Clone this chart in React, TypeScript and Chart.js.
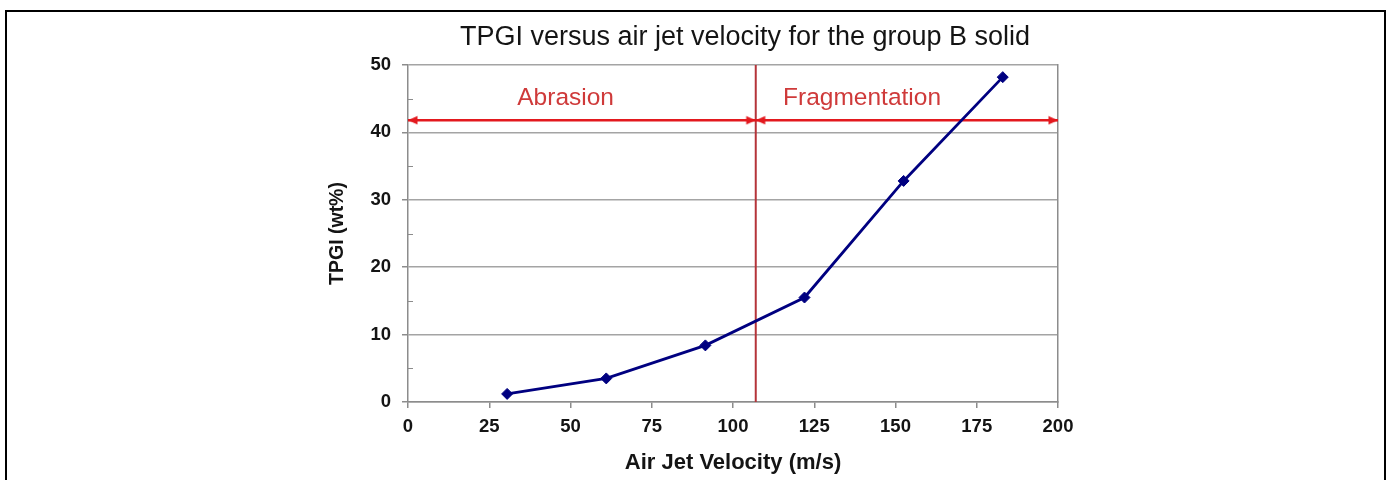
import React, { useEffect, useRef } from 'react';
import { Chart, registerables } from 'chart.js';

Chart.register(...registerables);

// ---- chart content ----
const chartTitle = 'TPGI versus air jet velocity for the group B solid';
const xAxisTitle = 'Air Jet Velocity (m/s)';
const yAxisTitle = 'TPGI (wt%)';

const velocity = [30.5, 61, 91.5, 122, 152.5, 183];
const tpgi = [1.2, 3.5, 8.4, 15.5, 32.8, 48.2];

const xMin = 0;
const xMax = 200;
const xStep = 25;
const yMin = 0;
const yMax = 50;
const yStep = 10;
const yMinorStep = 5;

const boundaryVelocity = 107;
const arrowLevel = 41.8;
const regionNames = ['Abrasion', 'Fragmentation'];
const regionLabelVelocity = [48.5, 139.7];
const regionLabelLevel = 44.1;

// ---- styles ----
const FONT = "'Liberation Sans', Arial, sans-serif";
const textColor = '#141414';
const gridColor = '#a4a4a4';
const axisColor = '#8c8c8c';
const seriesColor = '#000080';
const boundaryColor = '#b5343a';
const arrowColor = '#e3191e';
const regionTextColor = '#cf3a3a';

function makeArrowHead(): HTMLCanvasElement {
  const c = document.createElement('canvas');
  c.width = 22;
  c.height = 10;
  const g = c.getContext('2d')!;
  g.fillStyle = arrowColor;
  g.beginPath();
  g.moveTo(11, 5);
  g.lineTo(1.5, 0.8);
  g.lineTo(1.5, 9.2);
  g.closePath();
  g.fill();
  return c;
}

const decorPlugin = {
  id: 'decor',
  afterDraw(chart: any) {
    const { ctx, chartArea, scales } = chart;
    const ys = scales.y;
    const xs = scales.x;
    ctx.save();
    // minor ticks on the value axis (inside)
    ctx.strokeStyle = axisColor;
    ctx.lineWidth = 1;
    for (let v = yMin + yMinorStep; v < yMax; v += yStep) {
      const py = Math.round(ys.getPixelForValue(v)) + 0.5;
      ctx.beginPath();
      ctx.moveTo(chartArea.left, py);
      ctx.lineTo(chartArea.left + 5, py);
      ctx.stroke();
    }
    // region labels
    ctx.fillStyle = regionTextColor;
    ctx.font = `24.5px ${FONT}`;
    ctx.textAlign = 'center';
    ctx.textBaseline = 'alphabetic';
    regionNames.forEach((name, i) => {
      ctx.fillText(name, xs.getPixelForValue(regionLabelVelocity[i]), ys.getPixelForValue(regionLabelLevel));
    });
    ctx.restore();
  },
};

export default function App() {
  const ref = useRef<HTMLCanvasElement>(null);

  useEffect(() => {
    const canvas = ref.current;
    if (!canvas) return;
    const head = makeArrowHead();

    const chart = new Chart(canvas, {
      type: 'line',
      data: {
        datasets: [
          {
            label: 'TPGI',
            data: velocity.map((v, i) => ({ x: v, y: tpgi[i] })),
            borderColor: seriesColor,
            backgroundColor: seriesColor,
            borderWidth: 2.8,
            tension: 0,
            pointStyle: 'rectRot',
            pointRadius: 5.5,
            pointBorderWidth: 1,
            pointBackgroundColor: seriesColor,
            pointBorderColor: seriesColor,
            order: 0,
          },
          {
            label: 'boundary',
            data: [
              { x: boundaryVelocity, y: yMin },
              { x: boundaryVelocity, y: yMax },
            ],
            borderColor: boundaryColor,
            borderWidth: 2,
            pointRadius: 0,
            order: 2,
          },
          {
            label: 'abrasion range',
            data: [
              { x: xMin, y: arrowLevel },
              { x: boundaryVelocity, y: arrowLevel },
            ],
            borderColor: arrowColor,
            borderWidth: 2.5,
            pointStyle: head as any,
            pointRotation: [180, 0] as any,
            pointRadius: 5,
            clip: false as any,
            order: 1,
          },
          {
            label: 'fragmentation range',
            data: [
              { x: boundaryVelocity, y: arrowLevel },
              { x: xMax, y: arrowLevel },
            ],
            borderColor: arrowColor,
            borderWidth: 2.5,
            pointStyle: head as any,
            pointRotation: [180, 0] as any,
            pointRadius: 5,
            clip: false as any,
            order: 1,
          },
        ],
      },
      options: {
        responsive: false,
        animation: false,
        devicePixelRatio: 1,
        events: [],
        layout: { padding: { left: 97, right: 0, top: 0, bottom: 3.6 } },
        plugins: {
          legend: { display: false },
          tooltip: { enabled: false },
          title: {
            display: true,
            text: chartTitle,
            color: textColor,
            font: { family: FONT, size: 27, weight: 'normal' },
            padding: { top: 21, bottom: 11.6 },
          },
        },
        scales: {
          x: {
            type: 'linear',
            position: 'bottom',
            min: xMin,
            max: xMax,
            ticks: {
              stepSize: xStep,
              color: textColor,
              font: { family: FONT, size: 18.5, weight: 'bold' },
              padding: 7.5,
              maxRotation: 0,
              autoSkip: false,
            },
            grid: {
              display: true,
              drawOnChartArea: false,
              drawTicks: true,
              tickLength: 6,
              tickColor: axisColor,
              lineWidth: 1.5,
            },
            border: { display: true, color: axisColor, width: 1.5 },
            title: {
              display: true,
              text: xAxisTitle,
              color: textColor,
              font: { family: FONT, size: 22, weight: 'bold' },
              padding: 0,
            },
            afterFit(scale: any) {
              scale.height = 74.4;
            },
          },
          y: {
            type: 'linear',
            position: 'left',
            min: yMin,
            max: yMax,
            ticks: {
              stepSize: yStep,
              color: textColor,
              font: { family: FONT, size: 18.5, weight: 'bold' },
              padding: 11,
            },
            grid: {
              display: true,
              color: gridColor,
              lineWidth: 1.5,
              drawTicks: true,
              tickLength: 6,
              tickColor: axisColor,
            },
            border: { display: true, color: axisColor, width: 1.5 },
            title: {
              display: true,
              text: yAxisTitle,
              color: textColor,
              font: { family: FONT, size: 19.5, weight: 'bold' },
              padding: { top: 229, bottom: 0 },
            },
            afterFit(scale: any) {
              scale.width = 311;
            },
          },
          yFrame: {
            type: 'linear',
            position: 'right',
            min: yMin,
            max: yMax,
            ticks: { display: false },
            grid: { display: false, drawTicks: false },
            border: { display: true, color: axisColor, width: 1.5 },
            afterFit(scale: any) {
              scale.width = 335;
            },
          },
        },
      } as any,
      plugins: [decorPlugin],
    });

    return () => chart.destroy();
  }, []);

  return (
    <div
      style={{
        position: 'fixed',
        left: 0,
        top: 0,
        width: 1393,
        height: 480,
        overflow: 'hidden',
        background: '#ffffff',
      }}
    >
      <div
        style={{
          position: 'absolute',
          left: 5,
          top: 10,
          width: 1377,
          height: 520,
          border: '2px solid #000000',
        }}
      />
      <canvas
        ref={ref}
        width={1393}
        height={480}
        style={{ position: 'absolute', left: 0, top: 0, width: 1393, height: 480 }}
      />
    </div>
  );
}
